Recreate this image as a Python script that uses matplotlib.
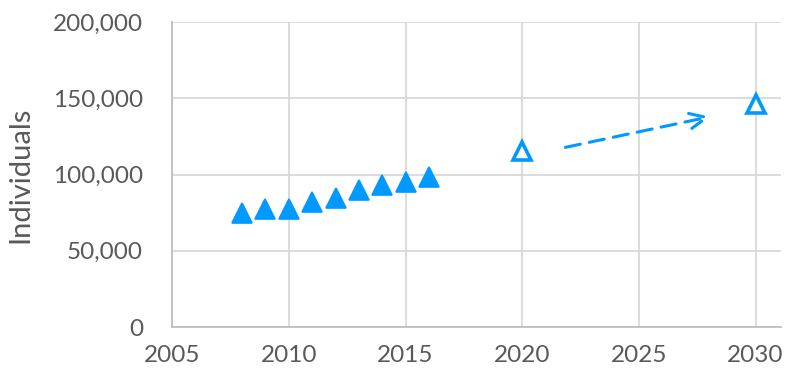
import matplotlib.pyplot as plt
from matplotlib.ticker import FuncFormatter

plt.rcParams["font.family"] = ["Lato", "DejaVu Sans"]

# observed counts
years = [2008, 2009, 2010, 2011, 2012, 2013, 2014, 2015, 2016]
counts = [75000, 77400, 77700, 82000, 84900, 89600, 93100, 95300, 98200]

# projections
proj_years = [2020, 2030]
proj_counts = [115500, 146400]

# trend arrow (start, end)
arrow_x = [2021.85, 2028.05]
arrow_y = [117800, 137900]

xticks = [2005, 2010, 2015, 2020, 2025, 2030]
yticks = [0, 50000, 100000, 150000, 200000]

blue = "#0099FF"
grey_txt = "#595959"
grid_c = "#D9D9D9"

fig = plt.figure(figsize=(7.86, 3.77), dpi=100)
ax = fig.add_axes([0.219, 0.1326, 0.775, 0.809])

ax.plot(years, counts, linestyle="none", marker="^", ms=14, color=blue,
        mec=blue, mew=1.2, zorder=3, clip_on=False)
ax.plot(proj_years, proj_counts, linestyle="none", marker="^", ms=12.5,
        mfc="white", mec=blue, mew=2.6, zorder=3, clip_on=False)

ax.annotate("", xy=(arrow_x[1], arrow_y[1]), xytext=(arrow_x[0], arrow_y[0]),
            arrowprops=dict(arrowstyle="->,head_length=1.2,head_width=0.55",
                            color=blue, lw=2.2, linestyle=(0, (5, 3)),
                            shrinkA=0, shrinkB=0))

ax.set_xlim(2005, 2031.1)
ax.set_ylim(0, 200000)
ax.set_xticks(xticks)
ax.set_yticks(yticks)
ax.yaxis.set_major_formatter(FuncFormatter(lambda v, p: f"{int(v):,}"))

ax.grid(True, color=grid_c, lw=1.3)
ax.set_axisbelow(True)
for s in ["top", "right"]:
    ax.spines[s].set_visible(False)
for s in ["left", "bottom"]:
    ax.spines[s].set_color("#BFBFBF")
    ax.spines[s].set_linewidth(1.3)

ax.tick_params(length=0, labelsize=17.5, colors=grey_txt)
ax.tick_params(axis="y", pad=21)
ax.tick_params(axis="x", pad=13)
ax.set_ylabel("Individuals", fontsize=21, color=grey_txt)
ax.yaxis.set_label_coords(-0.228, 0.5)

fig.savefig("out.png", dpi=100)
